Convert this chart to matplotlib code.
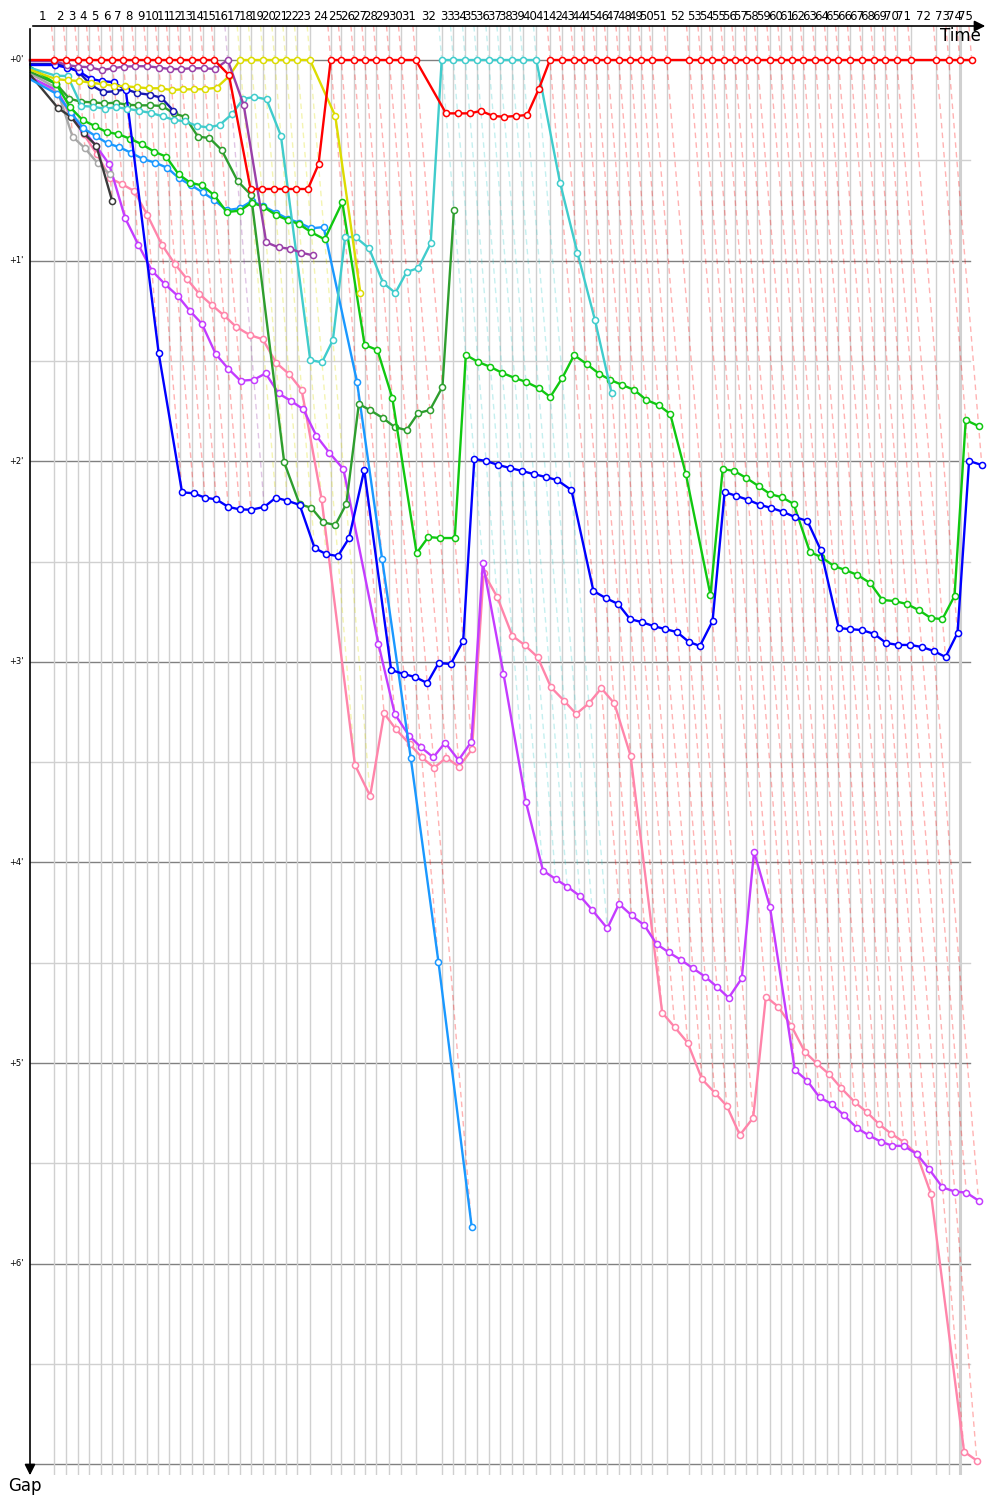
import matplotlib
matplotlib.use("Agg")
import matplotlib.pyplot as plt

# race time of the leader (minutes) at the end of each lap, lap 0..75
leader_time = [0.0, 1.482, 2.213, 2.909, 3.616, 4.311, 5.018, 5.689, 6.384, 7.116,
               7.823, 8.494, 9.165, 9.860, 10.549, 11.238, 12.055, 12.805, 13.494, 14.226,
               14.921, 15.591, 16.299, 17.073, 18.335, 18.982, 19.738, 20.409, 21.116, 21.909,
               22.640, 23.518, 25.104, 25.811, 26.543, 27.238, 27.970, 28.640, 29.372, 30.043,
               30.872, 31.707, 32.421, 33.152, 33.799, 34.494, 35.201, 35.896, 36.604, 37.274,
               37.927, 38.823, 40.201, 40.896, 41.604, 42.299, 42.970, 43.677, 44.348, 45.104,
               45.774, 46.482, 47.152, 47.884, 48.616, 49.287, 50.018, 50.750, 51.445, 52.152,
               52.848, 53.701, 55.262, 56.018, 56.689, 57.421]

# gap to the leader (minutes), one value per lap starting at lap 0
gap_red = [0, 0, 0, 0, 0, 0, 0, 0, 0, 0, 0, 0, 0, 0, 0, 0,
           0.075, 0.643, 0.643, 0.643, 0.643, 0.643, 0.643, 0.52,
           0, 0, 0, 0, 0, 0, 0, 0,
           0.266, 0.266, 0.266, 0.254, 0.279, 0.283, 0.279, 0.274, 0.146,
           0, 0, 0, 0, 0, 0, 0, 0, 0, 0, 0, 0, 0, 0, 0, 0, 0, 0, 0, 0,
           0, 0, 0, 0, 0, 0, 0, 0, 0, 0, 0, 0, 0, 0, 0]
gap_purple = [0.005, 0.005, 0.025, 0.033, 0.036, 0.051, 0.041, 0.033, 0.031, 0.031,
              0.038, 0.045, 0.045, 0.041, 0.041, 0.045, 0.0, 0.224, 0.909, 0.934,
              0.941, 0.961, 0.974]
gap_navy = [0.02, 0.02, 0.03, 0.06, 0.126, 0.16, 0.156, 0.146, 0.165, 0.173, 0.188, 0.253]
gap_blue = [0.025, 0.025, 0.038, 0.055, 0.095, 0.105, 0.111, 0.15, 1.46, 2.155,
            2.16, 2.182, 2.19, 2.228, 2.24, 2.242, 2.228, 2.182, 2.197, 2.218,
            2.433, 2.463, 2.473, 2.383, 2.044, 3.041, 3.061, 3.076, 3.106, 3.006,
            3.011, 2.896, 1.989, 1.999, 2.019, 2.034, 2.049, 2.064, 2.079, 2.094,
            2.144, 2.647, 2.682, 2.712, 2.787, 2.802, 2.822, 2.837, 2.852, 2.901,
            2.921, 2.797, 2.154, 2.173, 2.193, 2.218, 2.233, 2.253, 2.278, 2.298,
            2.443, 2.832, 2.837, 2.842, 2.861, 2.906, 2.916, 2.916, 2.926, 2.946,
            2.976, 2.856, 1.999, 2.019]
gap_yellow = [0.05, 0.095, 0.101, 0.105, 0.113, 0.121, 0.128, 0.131, 0.136, 0.141,
              0.141, 0.150, 0.146, 0.146, 0.145, 0.138, 0.081, 0, 0, 0,
              0, 0, 0, 0, 0.279, 1.16]
gap_cyan = [0.04, 0.078, 0.08, 0.229, 0.233, 0.243, 0.236, 0.243, 0.253, 0.264,
            0.281, 0.299, 0.306, 0.329, 0.336, 0.324, 0.269, 0.194, 0.184, 0.196,
            0.377, 1.496, 1.507, 1.396, 0.881, 0.884, 0.939, 1.11, 1.161, 1.057,
            1.037, 0.914, 0, 0, 0, 0, 0, 0, 0, 0,
            0, 0.612, 0.962, 1.296, 1.66]
gap_green = [0.035, 0.12, 0.236, 0.299, 0.329, 0.359, 0.370, 0.392, 0.419, 0.457,
             0.482, 0.570, 0.612, 0.625, 0.673, 0.758, 0.751, 0.711, 0.731, 0.773,
             0.798, 0.818, 0.859, 0.894, 0.709, 1.42, 1.446, 1.685, 2.458, 2.378,
             2.383, 2.383, 1.47, 1.505, 1.530, 1.560, 1.585, 1.605, 1.635, 1.68,
             1.585, 1.471, 1.515, 1.565, 1.595, 1.62, 1.645, 1.695, 1.72, 1.765,
             2.064, 2.667, 2.039, 2.049, 2.084, 2.124, 2.164, 2.18, 2.213, 2.453,
             2.478, 2.522, 2.542, 2.567, 2.607, 2.692, 2.697, 2.712, 2.742, 2.782,
             2.787, 2.672, 1.795, 1.825]
gap_darkgreen = [0.06, 0.12, 0.193, 0.208, 0.211, 0.216, 0.213, 0.223, 0.226, 0.226,
                 0.229, 0.266, 0.283, 0.382, 0.389, 0.449, 0.603, 0.673, 2.006, 2.215,
                 2.232, 2.305, 2.318, 2.213, 1.715, 1.745, 1.785, 1.83, 1.845, 1.76,
                 1.745, 1.63, 0.748]
gap_dodger = [0.1, 0.17, 0.26, 0.34, 0.379, 0.415, 0.435, 0.462, 0.493, 0.512,
              0.537, 0.589, 0.623, 0.659, 0.699, 0.749, 0.739, 0.704, 0.728, 0.761,
              0.791, 0.811, 0.839, 0.833, 1.605, 2.488, 3.48, 4.497, 5.816]
gap_violet = [0.09, 0.15, 0.27, 0.35, 0.43, 0.52, 0.789, 0.922, 1.05, 1.118,
              1.175, 1.25, 1.315, 1.466, 1.539, 1.599, 1.594, 1.562, 1.662, 1.7,
              1.741, 1.874, 1.958, 2.04, 2.911, 3.26, 3.368, 3.426, 3.476, 3.403,
              3.49, 3.398, 2.507, 3.06, 3.70, 4.041, 4.083, 4.121, 4.168, 4.237,
              4.329, 4.207, 4.264, 4.314, 4.407, 4.448, 4.486, 4.528, 4.57, 4.621,
              4.675, 4.578, 3.947, 4.221, 5.035, 5.088, 5.171, 5.204, 5.259, 5.324,
              5.36, 5.392, 5.412, 5.414, 5.454, 5.528, 5.62, 5.641, 5.646, 5.686]
gap_pink = [0.085, 0.16, 0.28, 0.37, 0.47, 0.59, 0.62, 0.653, 0.773, 0.92,
            1.018, 1.093, 1.167, 1.221, 1.273, 1.33, 1.372, 1.392, 1.509, 1.565,
            1.645, 2.19, 3.514, 3.669, 3.257, 3.337, 3.41, 3.476, 3.528, 3.478,
            3.523, 3.436, 2.557, 2.677, 2.871, 2.916, 2.976, 3.127, 3.194, 3.26,
            3.207, 3.132, 3.207, 3.468, 4.749, 4.822, 4.899, 5.081, 5.148, 5.214,
            5.359, 5.273, 4.669, 4.719, 4.814, 4.944, 5.002, 5.056, 5.126, 5.196,
            5.244, 5.306, 5.352, 5.394, 5.454, 5.653, 6.937, 6.982]
gap_gray = [0.07, 0.14, 0.382, 0.44, 0.515, 0.57]
gap_black = [0.08, 0.241, 0.283, 0.365, 0.427, 0.704]

drivers = [
    (gap_pink, "#ff85aa"),
    (gap_violet, "#c43cff"),
    (gap_gray, "#a8a8a8"),
    (gap_black, "#3a3a3a"),
    (gap_dodger, "#1a98ff"),
    (gap_darkgreen, "#2e9e2e"),
    (gap_green, "#10c810"),
    (gap_navy, "#1818b0"),
    (gap_blue, "#0000ff"),
    (gap_cyan, "#40cccc"),
    (gap_yellow, "#dcdc00"),
    (gap_purple, "#9a40a8"),
    (gap_red, "#ff0000"),
]

# px geometry of the picture
PX_X = 16.4      # px per minute of race time
PX_Y = 200.6     # px per minute of gap
g_top = -(60 - 26) / PX_Y
g_bot = (1475 - 60) / PX_Y
t_right = (990 - 30) / PX_X
t_hline = (970 - 30) / PX_X

fig = plt.figure(figsize=(10, 15), dpi=100)
ax = fig.add_axes([0.03, 25 / 1500, 0.96, 1449 / 1500])
ax.set_xlim(0, t_right)
ax.set_ylim(g_bot, g_top)
ax.axis("off")

# horizontal grid
for k in range(15):
    g = k * 0.5
    if g > g_bot:
        break
    if k % 2 == 0:
        ax.plot([0, t_hline], [g, g], color="#808080", lw=1.0, zorder=1)
    else:
        ax.plot([0, t_hline], [g, g], color="#d0d0d0", lw=1.0, zorder=1)

# vertical lap lines
for n in range(1, 75):
    ax.plot([leader_time[n], leader_time[n]], [g_top, g_bot], color="#d0d0d0",
            lw=2.2 if n == 74 else 1.0, zorder=1)

# leader of each lap -> colour of the lap line
def leader_color(n):
    for gaps, col in drivers:
        if n < len(gaps) and gaps[n] == 0:
            return col
    return "#ff0000"

for n in range(1, 76):
    gmax = max(gaps[n] for gaps, c in drivers if n < len(gaps))
    t = leader_time[n]
    ax.plot([t + g_top, t + gmax], [g_top, gmax], color=leader_color(n), alpha=0.3,
            lw=1.0, ls=(0, (4, 3)), zorder=2)

# drivers
for z, (gaps, col) in enumerate(drivers):
    xs = [leader_time[n] + g for n, g in enumerate(gaps)]
    ax.plot(xs, gaps, color=col, lw=1.7, marker="o", ms=4.4, mfc="white",
            mec=col, mew=1.1, markevery=list(range(1, len(gaps))), zorder=3 + z,
            clip_on=False)

# lap numbers
for n in range(1, 76):
    ax.text((leader_time[n - 1] + leader_time[n]) / 2, -(60 - 17) / PX_Y, str(n),
            ha="center", va="center", fontsize=8.5, clip_on=False)

# gap labels
for k in range(7):
    fig.text(24 / 1000, 1 - (60 + k * PX_Y) / 1500, "+%d'" % k, ha="right",
             va="center", fontsize=6)

# axes with arrows
fig.patches.append(matplotlib.patches.FancyArrowPatch(
    (30 / 1000, 1 - 26 / 1500), (988 / 1000, 1 - 26 / 1500), transform=fig.transFigure,
    arrowstyle="-|>", mutation_scale=16, color="black", lw=1.2))
fig.patches.append(matplotlib.patches.FancyArrowPatch(
    (30 / 1000, 1 - 26 / 1500), (30 / 1000, 1 - 1478 / 1500), transform=fig.transFigure,
    arrowstyle="-|>", mutation_scale=16, color="black", lw=1.2))
fig.text(960 / 1000, 1 - 36 / 1500, "Time", ha="center", va="center", fontsize=12)
fig.text(25 / 1000, 1 - 1486 / 1500, "Gap", ha="center", va="center", fontsize=12)

fig.savefig("out.png", dpi=100)
